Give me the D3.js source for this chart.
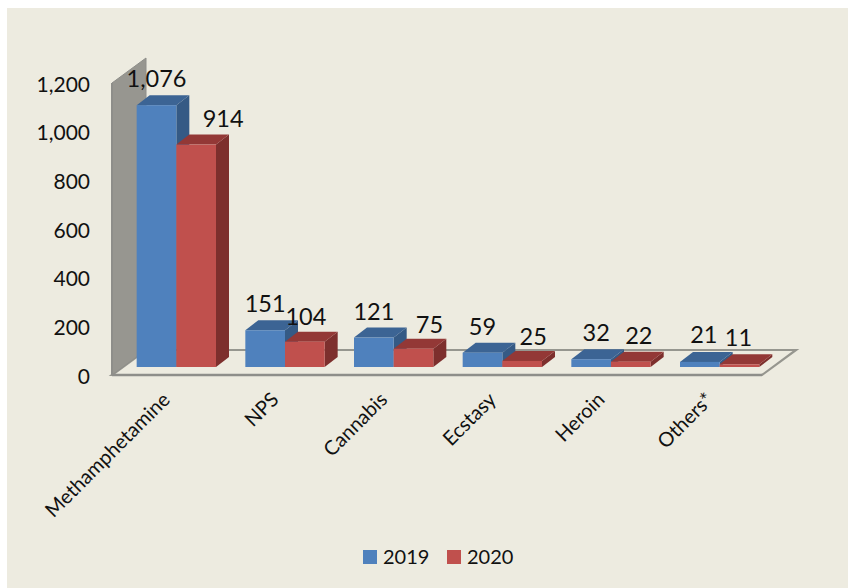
<!DOCTYPE html>
<html><head><meta charset="utf-8">
<script src="https://cdn.jsdelivr.net/npm/d3@7"></script>
<style>html,body{margin:0;padding:0;background:#fff}svg{display:block}text{font-family:Lato,sans-serif;fill:#111}</style>
</head><body><div id="c"></div>
<script>
const categories = ["Methamphetamine","NPS","Cannabis","Ecstasy","Heroin","Others*"];
const seriesNames = ["2019","2020"];
const values2019 = [1076,151,121,59,32,21];
const values2020 = [914,104,75,25,22,11];
const yTicks = [0,200,400,600,800,1000,1200];

const W=848,H=588;
const svg=d3.select("#c").append("svg").attr("width",W).attr("height",H);
svg.append("rect").attr("x",7).attr("y",8).attr("width",W-7).attr("height",H-8).attr("fill","#EDEBE0");

const colors=[{f:"#4F81BD",t:"#3C6494",s:"#355A85"},{f:"#C0504D",t:"#933836",s:"#7D2F2D"}];
const y=d3.scaleLinear().domain([0,1200]).range([375,83]);
const left=112,right=762,wallDx=34,wallDy=-25;
const x0=d3.scaleBand().domain(categories).range([left+10,right+12]).paddingInner(0.27).paddingOuter(0.135);
const x1=d3.scaleBand().domain(seriesNames).range([0,x0.bandwidth()]);
const lift=8,dDx=13,dDy=-10;
const path=p=>"M"+p.map(a=>a.join(",")).join("L")+"Z";
const edge="#8E8E8A";
// floor
svg.append("path").attr("d",path([[left,375],[right,375],[right+wallDx,375+wallDy],[left+wallDx,375+wallDy]]))
  .attr("fill","#EDEBE0").attr("stroke","#96968F").attr("stroke-width",2.2);
// wall
svg.append("path").attr("d",path([[left,83],[left+wallDx,83+wallDy],[left+wallDx,375+wallDy],[left,375]]))
  .attr("fill","#979690").attr("stroke","#8E8E8A").attr("stroke-width",1);
svg.append("line").attr("x1",left).attr("x2",right).attr("y1",375).attr("y2",375).attr("stroke",edge).attr("stroke-width",2.4);
svg.append("line").attr("x1",left).attr("x2",left).attr("y1",83).attr("y2",375).attr("stroke",edge).attr("stroke-width",2);

// bars: drawn back to front, left to right
const rows=categories.flatMap((c,i)=>[{c,i,s:0,v:values2019[i]},{c,i,s:1,v:values2020[i]}]);
const g=svg.append("g");
rows.forEach(d=>{
  const a=x0(d.c)+x1(seriesNames[d.s]),b=a+x1.bandwidth(),t=y(d.v)-lift,base=y(0)-lift,col=colors[d.s];
  const bar=g.append("g").attr("class","bar");
  bar.append("path").attr("fill",col.s).attr("d",path([[b,t],[b+dDx,t+dDy],[b+dDx,base+dDy],[b,base]]));
  bar.append("path").attr("fill",col.t).attr("d",path([[a,t],[a+dDx,t+dDy],[b+dDx,t+dDy],[b,t]]));
  bar.append("rect").attr("x",a).attr("y",t).attr("width",b-a).attr("height",base-t).attr("fill",col.f);
});

// data labels (hand-nudged in the source chart)
const labelNudge=[[0,0],[27,0],[0,0],[1,1],[0,0],[16,2],[0,0],[11,2],[5,0],[8,0],[4,-1],[-1,0]];
const fmt=d3.format(",");
svg.append("g").selectAll("text").data(rows).join("text")
  .attr("text-anchor","middle").attr("font-size",23.5)
  .attr("x",(d,i)=>x0(d.c)+x1(seriesNames[d.s])+x1.bandwidth()/2+labelNudge[i][0])
  .attr("y",(d,i)=>y(d.v)-lift-18+labelNudge[i][1])
  .text(d=>fmt(d.v));

// y axis
const axisY=d3.axisLeft(y).tickValues(yTicks).tickSize(0).tickPadding(22).tickFormat(fmt);
const ay=svg.append("g").attr("transform",`translate(${left},1.5)`).call(axisY);
ay.select(".domain").remove();
ay.selectAll("text").attr("font-size",21).attr("fill","#111").style("font-family","Lato,sans-serif");

// category labels
svg.append("g").selectAll("text").data(categories).join("text")
  .attr("text-anchor","end").attr("font-size",20)
  .attr("transform",c=>`translate(${x0(c)+x0.bandwidth()/2-15},${391}) rotate(-45)`)
  .attr("dy","0.7em")
  .text(c=>c);

// legend
const lx=[363,447];
const lg=svg.append("g").selectAll("g").data(seriesNames).join("g").attr("transform",(d,i)=>`translate(${lx[i]},550)`);
lg.append("rect").attr("width",14).attr("height",14).attr("fill",(d,i)=>colors[i].f);
lg.append("text").attr("x",20).attr("y",14).attr("font-size",20).text(d=>d);
</script></body></html>
